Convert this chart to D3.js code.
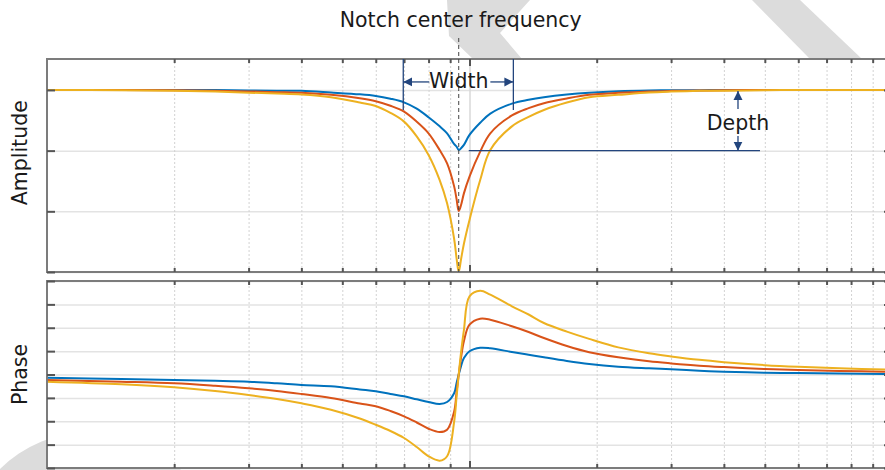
<!DOCTYPE html>
<html>
<head>
<meta charset="utf-8">
<script src="https://cdn.jsdelivr.net/npm/d3@7"></script>
<style>
body{margin:0;background:#fff;}
svg text{font-family:"DejaVu Sans",Verdana,sans-serif;fill:#1a1a1a;}
</style>
</head>
<body>
<div id="main"></div>
<script>
// frequency samples along the log axis
const freq = [1, 1.5, 2, 2.5, 3, 3.5, 4, 4.7, 5.5, 6, 6.5, 7, 7.5, 8, 8.5, 8.85, 9.2, 9.32, 9.43, 9.55,
              9.7, 10, 10.6, 11.2, 12.6, 13.8, 15, 17, 19.2, 22.5, 26.6, 30, 35, 40, 50, 60, 75, 100];

// amplitude (flat level = 1)
const ampBlue   = [1.0, 1.0, 1.0, 1.0, 0.997, 0.996, 0.995, 0.986, 0.976, 0.967, 0.952, 0.932, 0.897, 0.850, 0.800, 0.762, 0.702, 0.689, 0.670, 0.680,
                   0.698, 0.753, 0.820, 0.870, 0.925, 0.946, 0.960, 0.975, 0.985, 0.993, 0.997, 0.998, 0.999, 1.0, 1.0, 1.0, 1.0, 1.0];
const ampOrange = [1.0, 1.0, 0.998, 0.996, 0.992, 0.988, 0.984, 0.973, 0.954, 0.938, 0.913, 0.881, 0.826, 0.762, 0.670, 0.597, 0.469, 0.400, 0.335, 0.368,
                   0.432, 0.524, 0.661, 0.762, 0.860, 0.900, 0.927, 0.953, 0.973, 0.984, 0.992, 0.995, 0.997, 0.998, 1.0, 1.0, 1.0, 1.0];
const ampYellow = [1.0, 0.999, 0.995, 0.991, 0.985, 0.980, 0.975, 0.960, 0.931, 0.912, 0.874, 0.826, 0.745, 0.643, 0.505, 0.377, 0.180, 0.075, 0.0, 0.070,
                   0.155, 0.286, 0.505, 0.670, 0.800, 0.852, 0.890, 0.931, 0.960, 0.973, 0.986, 0.991, 0.995, 0.996, 0.998, 1.0, 1.0, 1.0];

// phase (grid units)
const phaseBlue   = [-0.137, -0.193, -0.235, -0.270, -0.308, -0.376, -0.449, -0.505, -0.642, -0.719, -0.830, -0.933, -1.061, -1.176, -1.262, -1.176, -0.790, -0.360, 0.0, 0.360,
                     0.706, 0.993, 1.140, 1.120, 0.963, 0.847, 0.736, 0.578, 0.449, 0.334, 0.265, 0.222, 0.163, 0.120, 0.077, 0.060, 0.043, 0.021];
const phaseOrange = [-0.235, -0.308, -0.376, -0.483, -0.590, -0.706, -0.834, -1.005, -1.241, -1.360, -1.561, -1.788, -2.053, -2.319, -2.460, -2.361, -1.574, -0.750, 0.0, 0.720,
                     1.420, 2.130, 2.387, 2.344, 2.062, 1.818, 1.561, 1.219, 0.954, 0.736, 0.565, 0.475, 0.377, 0.317, 0.235, 0.188, 0.150, 0.118];
const phaseYellow = [-0.308, -0.419, -0.548, -0.706, -0.877, -1.048, -1.232, -1.506, -1.882, -2.148, -2.417, -2.717, -3.102, -3.499, -3.688, -3.499, -2.000, -0.950, 0.0, 0.950,
                     1.900, 3.345, 3.585, 3.414, 2.918, 2.567, 2.203, 1.835, 1.523, 1.160, 0.906, 0.772, 0.626, 0.529, 0.401, 0.328, 0.263, 0.204];

const ampTicks = [0, 1/3, 2/3, 1];
const phaseTicks = [-4, -3, -2, -1, 0, 1, 2, 3, 4];
const minorFreq = [2, 3, 4, 5, 6, 7, 8, 9, 20, 30, 40, 50, 60, 70, 80, 90];
const majorFreq = [10];
const colors = ["#0072BD", "#D95319", "#EDB120"];

// annotation anchors (data units)
const notchF = 9.43;
const widthF = [6.97, 12.7];
const depthArrowF = 43.2;
const depthEndF = 48.7;

const width = 885, height = 470;
const navy = "#23457d";

const svg = d3.select('#main').append('svg')
  .attr('width', width).attr('height', height);

// watermark shapes behind the plot
const wm = svg.append('g').attr('fill', '#dcdcdc');
wm.append('circle').attr('cx', 90).attr('cy', 560).attr('r', 128);
wm.append('path').attr('d', 'M447,0 L530,0 L500,33 L522,59 L473,59 L449,36 Z');
wm.append('path').attr('d', 'M752,0 L800,0 L862,59 L810,59 Z');

var x = d3.scaleLog().domain([1, 100]).range([47, 892]);
var yA = d3.scaleLinear().domain([0, 1.17]).range([272, 59]);
var yP = d3.scaleLinear().domain([-4, 4]).range([468, 281]);

var defs = svg.append('defs');
defs.append('marker').attr('id', 'arr').attr('viewBox', '0 0 10 10')
  .attr('refX', 10).attr('refY', 5).attr('markerWidth', 9).attr('markerHeight', 10)
  .attr('markerUnits', 'userSpaceOnUse').attr('orient', 'auto')
  .append('path').attr('d', 'M0,0 L10,5 L0,10 Z').attr('fill', navy);

function panel(y, yTicks, series){
  const top = y.range()[1], bottom = y.range()[0];
  const left = x.range()[0], right = x.range()[1];
  const g = svg.append('g');
  g.append('rect').attr('x', left).attr('y', top)
    .attr('width', right - left).attr('height', bottom - top).attr('fill', '#fff');

  // horizontal grid
  g.append('g').attr('transform', 'translate(' + left + ',0)')
    .call(d3.axisLeft(y).tickValues(yTicks).tickSize(-(right - left)).tickFormat(''))
    .call(a => a.select('.domain').remove())
    .selectAll('line').attr('stroke', '#e3e3e3').attr('stroke-width', 1.5);

  // vertical grid
  g.append('g').attr('transform', 'translate(0,' + bottom + ')')
    .call(d3.axisBottom(x).tickValues(minorFreq).tickSize(-(bottom - top)).tickFormat(''))
    .call(a => a.select('.domain').remove())
    .selectAll('line').attr('stroke', '#d2d2d2').attr('stroke-dasharray', '2,2');
  g.append('g').attr('transform', 'translate(0,' + bottom + ')')
    .call(d3.axisBottom(x).tickValues(majorFreq).tickSize(-(bottom - top)).tickFormat(''))
    .call(a => a.select('.domain').remove())
    .selectAll('line').attr('stroke', '#d8d8d8').attr('stroke-width', 1.5);

  // curves
  const line = d3.line().x((d, i) => x(freq[i])).y(d => y(d)).curve(d3.curveCatmullRom.alpha(0.5));
  series.forEach((s, k) => {
    g.append('path').attr('d', line(s)).attr('fill', 'none')
      .attr('stroke', colors[k]).attr('stroke-width', 2);
  });

  // frame
  g.append('rect').attr('x', left).attr('y', top)
    .attr('width', right - left).attr('height', bottom - top)
    .attr('fill', 'none').attr('stroke', '#7c7c7c').attr('stroke-width', 2);

  // ticks pointing inward
  const tk = (sel) => sel.call(a => a.select('.domain').remove())
    .selectAll('line').attr('stroke', '#555').attr('stroke-width', 2);
  g.append('g').attr('transform', 'translate(0,' + top + ')')
    .call(d3.axisTop(x).tickValues(minorFreq).tickSize(-4).tickFormat('')).call(tk);
  g.append('g').attr('transform', 'translate(0,' + bottom + ')')
    .call(d3.axisBottom(x).tickValues(minorFreq).tickSize(-4).tickFormat('')).call(tk);
  g.append('g').attr('transform', 'translate(0,' + top + ')')
    .call(d3.axisTop(x).tickValues(majorFreq).tickSize(-7).tickFormat('')).call(tk);
  g.append('g').attr('transform', 'translate(0,' + bottom + ')')
    .call(d3.axisBottom(x).tickValues(majorFreq).tickSize(-7).tickFormat('')).call(tk);
  g.append('g').attr('transform', 'translate(' + left + ',0)')
    .call(d3.axisLeft(y).tickValues(yTicks).tickSize(-8).tickFormat('')).call(tk);
  g.append('g').attr('transform', 'translate(' + right + ',0)')
    .call(d3.axisRight(y).tickValues(yTicks).tickSize(-8).tickFormat('')).call(tk);
  return g;
}

panel(yA, ampTicks, [ampBlue, ampOrange, ampYellow]);
panel(yP, phaseTicks, [phaseBlue, phaseOrange, phaseYellow]);

// axis titles
svg.append('text').attr('transform', 'translate(27,' + yA(0.655) + ') rotate(-90)')
  .attr('text-anchor', 'middle').attr('font-size', 20.5).text('Amplitude');
svg.append('text').attr('transform', 'translate(27,' + yP(0) + ') rotate(-90)')
  .attr('text-anchor', 'middle').attr('font-size', 20.5).text('Phase');

// notch center marker
svg.append('line').attr('x1', x(notchF)).attr('x2', x(notchF))
  .attr('y1', 38).attr('y2', yA(0))
  .attr('stroke', '#444').attr('stroke-width', 1).attr('stroke-dasharray', '4,3');
svg.append('text').attr('x', x(notchF) + 2).attr('y', 27)
  .attr('text-anchor', 'middle').attr('font-size', 20.5).text('Notch center frequency');

// width annotation
const ann = svg.append('g');
widthF.forEach(f => {
  ann.append('line').attr('x1', x(f)).attr('x2', x(f))
    .attr('y1', yA(1.17)).attr('y2', yA(0.89))
    .attr('stroke', navy).attr('stroke-width', 1.3);
});
ann.append('line').attr('x1', x(widthF[0]) + 26).attr('x2', x(widthF[0]))
  .attr('y1', yA(1.044)).attr('y2', yA(1.044))
  .attr('stroke', navy).attr('stroke-width', 1.3).attr('marker-end', 'url(#arr)');
ann.append('line').attr('x1', x(widthF[1]) - 23).attr('x2', x(widthF[1]))
  .attr('y1', yA(1.044)).attr('y2', yA(1.044))
  .attr('stroke', navy).attr('stroke-width', 1.3).attr('marker-end', 'url(#arr)');
ann.append('text').attr('x', x(notchF)).attr('y', 88)
  .attr('text-anchor', 'middle').attr('font-size', 20.5).text('Width');

// depth annotation
ann.append('line').attr('x1', x(notchF) + 10).attr('x2', x(depthEndF))
  .attr('y1', yA(2/3)).attr('y2', yA(2/3))
  .attr('stroke', navy).attr('stroke-width', 1.3);
ann.append('line').attr('x1', x(depthArrowF)).attr('x2', x(depthArrowF))
  .attr('y1', 109).attr('y2', yA(1) + 1)
  .attr('stroke', navy).attr('stroke-width', 1.3).attr('marker-end', 'url(#arr)');
ann.append('line').attr('x1', x(depthArrowF)).attr('x2', x(depthArrowF))
  .attr('y1', 136).attr('y2', yA(2/3))
  .attr('stroke', navy).attr('stroke-width', 1.3).attr('marker-end', 'url(#arr)');
ann.append('text').attr('x', x(depthArrowF)).attr('y', 130)
  .attr('text-anchor', 'middle').attr('font-size', 20.5).text('Depth');
</script>
</body>
</html>
